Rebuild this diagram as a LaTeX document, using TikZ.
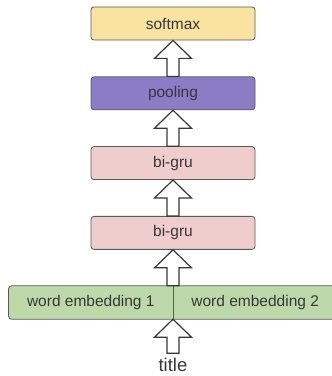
\documentclass[tikz,border=0pt]{standalone}
\usepackage{fontspec}
\setsansfont{Liberation Sans}
\usetikzlibrary{positioning, calc, fit, backgrounds}
\definecolor{softmax_fill}{HTML}{FAE3A0}
\definecolor{pooling_fill}{HTML}{8A7DC5}
\definecolor{gru_fill}{HTML}{F0CDCD}
\definecolor{embed_fill}{HTML}{BDD9AA}
\definecolor{edge_gray}{HTML}{5A5A5A}
\definecolor{text_gray}{HTML}{383838}

% hollow block arrow pointing up, from #1 (bottom) to #2 (tip)
\newcommand{\blockup}[2]{%
  \draw[blockarrow] let \p1=(#1), \p2=(#2) in
    (\x2-6pt,\y1) -- (\x2-6pt,\y2-18pt) -- (\x2-18.5pt,\y2-18pt) -- (\x2,\y2)
    -- (\x2+18.5pt,\y2-18pt) -- (\x2+6pt,\y2-18pt) -- (\x2+6pt,\y1) -- cycle;}

\begin{document}
\begin{tikzpicture}[
    x=1pt, y=1pt,
    font=\sffamily\fontsize{15.5}{18}\selectfont,
    text=text_gray,
    node distance=36pt,
    block/.style={
        draw=edge_gray,
        line width=0.8pt,
        rounded corners=3pt,
        align=center,
        minimum width=164pt,
        minimum height=33pt,
        inner sep=2pt
    },
    softmax_box/.style={block, fill=softmax_fill},
    pooling_box/.style={block, fill=pooling_fill},
    gru_box/.style={block, fill=gru_fill},
    embed_part/.style={minimum width=164pt, minimum height=33pt, inner sep=0pt},
    embed_back/.style={
        draw=edge_gray,
        line width=0.8pt,
        rounded corners=3pt,
        fill=embed_fill,
        inner sep=0pt
    },
    title_text/.style={font=\sffamily\fontsize{18.5}{22}\selectfont, inner xsep=2pt, inner ysep=5pt},
    blockarrow/.style={draw=text_gray, line width=1.2pt, fill=white, line join=miter}
]
\useasboundingbox (0,0) rectangle (332,376);
\clip (0,0) rectangle (332,376);

\node[softmax_box] (softmax) at (173,352.5) {softmax};
\node[pooling_box, below=of softmax] (pool) {pooling};
\node[gru_box, below=of pool] (gru1) {bi-gru};
\node[gru_box, below=of gru1] (gru2) {bi-gru};
\node[embed_part, below left=36pt and 0pt of gru2.south] (emb1) {word embedding 1};
\node[embed_part, right=0pt of emb1] (emb2) {word embedding 2};
\node[title_text, below=34pt of emb1.south east] (title) {title};

\begin{scope}[on background layer]
    \node[embed_back, fit=(emb1)(emb2)] (emb) {};
\end{scope}
\draw[draw=edge_gray, line width=0.8pt] (emb1.north east) -- (emb1.south east);

\blockup{title.north}{emb1.south east}
\blockup{emb1.north east}{gru2.south}
\blockup{gru2.north}{gru1.south}
\blockup{gru1.north}{pool.south}
\blockup{pool.north}{softmax.south}

\end{tikzpicture}
\end{document}
